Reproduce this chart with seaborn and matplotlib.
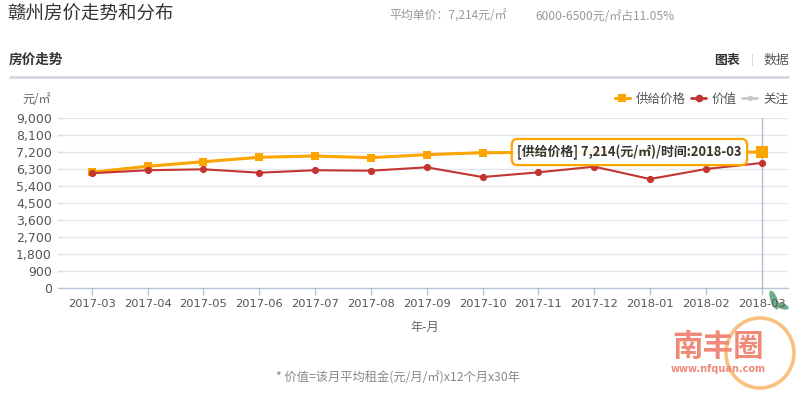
import numpy as np
import pandas as pd
import matplotlib
matplotlib.use("Agg")
import matplotlib.pyplot as plt
import seaborn as sns
from matplotlib.lines import Line2D
from matplotlib.patches import Ellipse

# ---------------- data ----------------
months = ['2017-03', '2017-04', '2017-05', '2017-06', '2017-07', '2017-08', '2017-09',
          '2017-10', '2017-11', '2017-12', '2018-01', '2018-02', '2018-03']
supply_price = [6140, 6460, 6700, 6935, 7005, 6915, 7075, 7180, 7190, 7200, 7210, 7205, 7214]
value = [6090, 6250, 6300, 6120, 6250, 6225, 6405, 5890, 6140, 6440, 5785, 6315, 6635]
y_ticks = [0, 900, 1800, 2700, 3600, 4500, 5400, 6300, 7200, 8100, 9000]
series_names = ['供给价格', '价值', '关注']

ORANGE = '#fca400'
RED = '#c23531'
GRAY = '#c8c8c8'
CJK = ['Noto Sans CJK SC', 'DejaVu Sans']

sns.set_theme(style='white')
plt.rcParams['font.family'] = CJK

W, H = 801, 394
fig = plt.figure(figsize=(W / 100, H / 100), dpi=100)
fig.patch.set_facecolor('white')

ax_left, ax_right, ax_top, ax_bot = 58, 788, 118.3, 288.3
ax = fig.add_axes([ax_left / W, 1 - ax_bot / H, (ax_right - ax_left) / W, (ax_bot - ax_top) / H])

df = pd.DataFrame({'month': months, 'supply': supply_price, 'value': value})

sns.lineplot(data=df, x='month', y='supply', color=ORANGE, lw=2.2, marker='s',
             markersize=5.5, markeredgewidth=0, ax=ax, zorder=3)
sns.lineplot(data=df, x='month', y='value', color=RED, lw=1.5, marker='o',
             markersize=5.2, markeredgewidth=0, ax=ax, zorder=4)

last = len(months) - 1
# axis pointer + highlighted point
ax.axvline(last, color='#b4bccb', lw=1, zorder=2)
ax.plot([last], [supply_price[-1]], marker='s', markersize=8.5, color=ORANGE,
        markeredgewidth=0, zorder=6, clip_on=False)

ax.set_xlim(-0.603, last + 0.471)
ax.set_ylim(0, 9000)
ax.set_yticks(y_ticks)
ax.set_yticklabels([f'{v:,}' for v in y_ticks], fontfamily='DejaVu Sans')
ax.set_xticks(range(len(months)))
ax.set_xticklabels(months, fontfamily='DejaVu Sans')
ax.set_xlabel('')
ax.set_ylabel('')
ax.grid(axis='y', color='#e3e6ec', lw=1)
ax.grid(axis='x', visible=False)
for s in ['top', 'right', 'left']:
    ax.spines[s].set_visible(False)
ax.spines['bottom'].set_color('#b9c6d8')
ax.spines['bottom'].set_linewidth(1)
ax.tick_params(axis='x', direction='out', length=5, width=1, color='#b9c6d8',
               labelcolor='#555555', labelsize=8.25, pad=3, bottom=True)
ax.tick_params(axis='y', direction='in', length=3, width=1, color='#d6dbe4',
               labelcolor='#555555', labelsize=9, pad=4.3, left=True)

# tooltip
ax.annotate('[供给价格] 7,214(元/㎡)/时间:2018-03', xy=(last, supply_price[-1]),
            xytext=(-20, 0), textcoords='offset pixels', ha='right', va='center',
            fontsize=9.3, fontweight='bold', color='#333333', family=['Noto Sans CJK SC'],
            bbox=dict(boxstyle='round,pad=0.42,rounding_size=0.45', fc=(1, 1, 1, 0.9),
                      ec=ORANGE, lw=1.6), zorder=10, annotation_clip=False)

# legend
handles = [
    Line2D([], [], color=ORANGE, lw=2.2, marker='s', markersize=6, markeredgewidth=0),
    Line2D([], [], color=RED, lw=2, marker='o', markersize=5.5, markeredgewidth=0),
    Line2D([], [], color=GRAY, lw=2, marker='o', markersize=4, markeredgewidth=0),
]
leg = fig.legend(handles, series_names, loc='center right',
                 bbox_to_anchor=(788 / W, 1 - 99 / H), ncol=3, frameon=False,
                 handlelength=1.2, handletextpad=0.45, columnspacing=0.45,
                 borderpad=0, borderaxespad=0,
                 prop={'family': CJK, 'size': 9})
for t in leg.get_texts():
    t.set_color('#555555')

# overlay for header / footer texts in pixel coordinates
ov = fig.add_axes([0, 0, 1, 1], zorder=-1)
ov.set_xlim(0, W)
ov.set_ylim(H, 0)
ov.axis('off')

ov.text(7, 15, '赣州房价走势和分布', fontsize=13.3, color='#333333', va='center', ha='left')
ov.text(389, 16, '平均单价：7,214元/㎡', fontsize=8.6, color='#999999', va='center', ha='left')
ov.text(535, 16, '6000-6500元/㎡占11.05%', fontsize=8.6, color='#999999', va='center', ha='left')
ov.text(9, 60, '房价走势', fontsize=9.8, color='#333333', fontweight='bold', va='center', ha='left')
ov.text(740, 60, '图表', fontsize=9.3, color='#333333', fontweight='bold', va='center', ha='right')
ov.text(752, 60, '|', fontsize=8, color='#cccccc', va='center', ha='center')
ov.text(789, 60, '数据', fontsize=9.3, color='#555555', va='center', ha='right')
ov.plot([9, 789], [77, 77], color='#d3d7e3', lw=2, solid_capstyle='butt')
ov.text(22, 99, '元/㎡', fontsize=8.6, color='#666666', va='center', ha='left')
ov.text(425, 327, '年-月', fontsize=8.8, color='#666666', va='center', ha='center')
ov.text(398, 378, '* 价值=该月平均租金(元/月/㎡)x12个月x30年', fontsize=8.8,
        color='#888888', va='center', ha='center')

# watermark logo
ov.add_patch(Ellipse((760, 353), 68, 70, fill=False, ec='#f9c07f', lw=2.6))
ov.add_patch(Ellipse((774, 300), 7, 20, angle=-20, fc='#6fae8a', ec='none'))
ov.add_patch(Ellipse((782, 306), 14, 6, angle=20, fc='#6fae8a', ec='none'))
ov.text(718, 347, '南丰圈', fontsize=22, fontweight='bold', color='#f08a78',
        va='center', ha='center')
ov.text(718, 369, 'www.nfquan.com', fontsize=7, fontweight='bold', color='#f08a78',
        va='center', ha='center', family='DejaVu Sans')

fig.savefig('out.png', dpi=100)
